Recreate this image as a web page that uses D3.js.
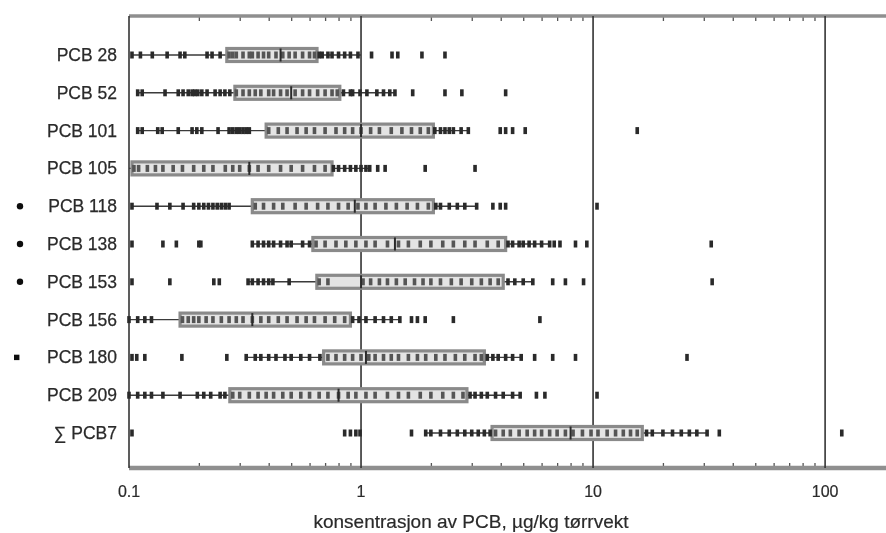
<!DOCTYPE html>
<html>
<head>
<meta charset="utf-8">
<script src="https://cdn.jsdelivr.net/npm/d3@7"></script>
<style>
  html, body { margin: 0; padding: 0; background: #fff; }
  svg { display: block; }
</style>
</head>
<body>
<svg id="chart" width="886" height="533"></svg>
<script>
// ---------------- data ----------------
const categories = ["PCB 28","PCB 52","PCB 101","PCB 105","PCB 118","PCB 138","PCB 153","PCB 156","PCB 180","PCB 209","\u2211 PCB7"];
const markers    = ["","","","","circle","circle","circle","","square","",""];

const q1        = [0.264, 0.286, 0.39, 0.103, 0.34, 0.62, 0.645, 0.166, 0.69, 0.272, 3.67];
const median    = [0.45,  0.50,  1.0,  0.33,  0.94, 1.4,  1.0,   0.34,  1.05, 0.8,   8.0];
const q3        = [0.646, 0.81,  2.05, 0.75,  2.05, 4.2,  4.1,   0.90,  3.4,  2.86,  16.3];
const whiskerLo = [0.103, 0.109, 0.109, 0.1,  0.103, 0.34, 0.326, 0.1,  0.32, 0.1,   1.9];
const whiskerHi = [1.0,   1.4,   2.9,  1.1,   3.15, 6.5,  5.5,   1.47,  4.9,  4.85,  31];

const ptsPCB28  = [0.103,0.112,0.126,0.146,0.166,0.174,0.217,0.228,0.247,0.27,0.28,0.29,0.31,0.33,0.34,0.36,0.38,0.40,0.43,0.46,0.49,0.52,0.56,0.60,0.63,0.66,0.68,0.72,0.75,0.80,0.85,0.90,0.97,1.11,1.36,1.44,1.83,2.30];
const ptsPCB52  = [0.109,0.114,0.143,0.163,0.171,0.180,0.187,0.192,0.198,0.206,0.217,0.235,0.247,0.259,0.272,0.29,0.31,0.33,0.35,0.37,0.40,0.42,0.45,0.48,0.52,0.56,0.60,0.65,0.70,0.75,0.79,0.84,0.90,0.92,0.99,1.06,1.17,1.25,1.33,1.40,1.67,2.30,2.72,4.2];
const ptsPCB101 = [0.109,0.114,0.133,0.139,0.163,0.187,0.196,0.206,0.242,0.27,0.28,0.29,0.30,0.31,0.32,0.33,0.40,0.44,0.48,0.53,0.58,0.63,0.70,0.78,0.85,0.92,1.0,1.1,1.2,1.35,1.5,1.65,1.8,1.95,2.08,2.2,2.3,2.4,2.5,2.7,2.9,3.98,4.2,4.5,5.1,15.5];
const ptsPCB105 = [0.105,0.11,0.12,0.13,0.14,0.155,0.17,0.19,0.21,0.23,0.26,0.28,0.30,0.33,0.36,0.40,0.45,0.50,0.56,0.63,0.70,0.76,0.8,0.85,0.9,0.95,1.0,1.05,1.09,1.18,1.27,1.89,3.1];
const ptsPCB118 = [0.103,0.132,0.150,0.171,0.19,0.2,0.21,0.22,0.23,0.24,0.25,0.26,0.27,0.35,0.38,0.42,0.46,0.52,0.58,0.65,0.72,0.80,0.88,0.97,1.05,1.15,1.28,1.42,1.58,1.75,1.95,2.1,2.2,2.4,2.6,2.8,3.15,3.7,3.98,4.2,10.4];
const ptsPCB138 = [0.103,0.140,0.160,0.200,0.204,0.34,0.36,0.38,0.40,0.42,0.45,0.48,0.50,0.56,0.60,0.64,0.7,0.78,0.86,0.95,1.05,1.15,1.3,1.45,1.6,1.8,2.0,2.25,2.5,2.8,3.1,3.5,3.9,4.3,4.5,4.8,5.0,5.3,5.6,6.0,6.5,6.8,7.2,8.4,9.4,32.3];
const ptsPCB153 = [0.103,0.150,0.232,0.245,0.326,0.34,0.36,0.38,0.40,0.417,0.49,0.66,0.72,1.02,1.1,1.2,1.3,1.42,1.55,1.7,1.85,2.0,2.2,2.45,2.7,3.0,3.3,3.6,3.9,4.3,4.6,5.0,5.5,6.7,7.6,9.1,32.6];
const ptsPCB156 = [0.1,0.109,0.117,0.125,0.17,0.18,0.19,0.2,0.215,0.23,0.25,0.27,0.29,0.31,0.34,0.37,0.40,0.44,0.48,0.53,0.58,0.63,0.70,0.77,0.85,0.92,0.98,1.05,1.15,1.25,1.35,1.47,1.65,1.75,1.89,2.5,5.9];
const ptsPCB180 = [0.103,0.108,0.117,0.169,0.264,0.32,0.35,0.37,0.40,0.43,0.47,0.50,0.55,0.60,0.665,0.72,0.78,0.85,0.92,1.0,1.08,1.15,1.25,1.35,1.45,1.6,1.75,1.9,2.1,2.3,2.55,2.8,3.1,3.3,3.5,3.7,3.9,4.2,4.5,4.9,5.6,6.7,8.4,25.4];
const ptsPCB209 = [0.1,0.109,0.117,0.125,0.14,0.166,0.197,0.21,0.225,0.247,0.259,0.28,0.30,0.33,0.36,0.39,0.42,0.46,0.5,0.55,0.6,0.66,0.72,0.8,0.88,0.95,1.05,1.15,1.3,1.45,1.6,1.8,2.0,2.25,2.5,2.75,2.95,3.1,3.3,3.5,3.8,4.1,4.5,4.85,5.7,6.2,10.4];
const ptsPCB7   = [0.103,0.85,0.9,0.95,0.99,1.65,1.9,2.0,2.2,2.4,2.6,2.8,3.0,3.2,3.4,3.6,3.8,4.1,4.4,4.8,5.2,5.6,6.0,6.5,7.0,7.6,8.2,9.0,9.8,10.5,11.5,12.5,13.5,14.5,15.5,17,18,20,22,24,26,28,31,35,118];
const points = [ptsPCB28, ptsPCB52, ptsPCB101, ptsPCB105, ptsPCB118, ptsPCB138, ptsPCB153, ptsPCB156, ptsPCB180, ptsPCB209, ptsPCB7];

const xTickValues = [0.1, 1, 10, 100];
const xTickLabels = ["0.1", "1", "10", "100"];
const xTitle = "konsentrasjon av PCB, \u00b5g/kg t\u00f8rrvekt";

// ---------------- layout ----------------
const plotLeft = 129, plotRight = 886, plotTop = 16, plotBottom = 468;
const svg = d3.select("#chart");

const defs = svg.append("defs");
defs.append("filter").attr("id", "blur")
  .attr("x", "-5%").attr("y", "-5%").attr("width", "110%").attr("height", "110%")
  .append("feGaussianBlur").attr("stdDeviation", 0.6);

const x = d3.scaleLog().domain([0.1, 183]).range([plotLeft, plotRight]);
const y = d3.scalePoint().domain(categories).range([55, 433]);

const g = svg.append("g").attr("filter", "url(#blur)");

// minor ticks top & bottom
const minorTicks = [];
[0.1, 1, 10, 100].forEach(d => { for (let k = 2; k <= 9; k++) if (d * k < 183) minorTicks.push(d * k); });

const axTop = g.append("g").attr("transform", `translate(0,${plotTop})`)
  .call(d3.axisTop(x).tickValues(minorTicks).tickSize(-5).tickFormat(""));
const axBot = g.append("g").attr("transform", `translate(0,${plotBottom})`)
  .call(d3.axisBottom(x).tickValues(minorTicks).tickSize(-5).tickFormat(""));
[axTop, axBot].forEach(a => {
  a.select(".domain").remove();
  a.selectAll(".tick line").attr("stroke", "#555").attr("stroke-width", 1.3);
});

// frame lines
g.append("line").attr("x1", plotLeft).attr("x2", plotRight).attr("y1", plotTop).attr("y2", plotTop)
  .attr("stroke", "#8f8f8f").attr("stroke-width", 3.5);
g.append("line").attr("x1", plotLeft).attr("x2", plotRight).attr("y1", plotBottom).attr("y2", plotBottom)
  .attr("stroke", "#8f8f8f").attr("stroke-width", 4.5);

// decade grid lines (incl. left edge)
g.append("g").selectAll("line").data(xTickValues).join("line")
  .attr("x1", d => x(d)).attr("x2", d => x(d))
  .attr("y1", plotTop).attr("y2", plotBottom)
  .attr("stroke", "#333").attr("stroke-width", 1.6);

// rows
const boxH = 13;
const rows = g.append("g").selectAll("g").data(categories).join("g")
  .attr("transform", d => `translate(0,${y(d)})`);

// whiskers
rows.append("line")
  .attr("x1", (d, i) => x(whiskerLo[i])).attr("x2", (d, i) => x(whiskerHi[i]))
  .attr("y1", 0).attr("y2", 0)
  .attr("stroke", "#3a3a3a").attr("stroke-width", 1.4);

// boxes
rows.append("rect")
  .attr("x", (d, i) => x(q1[i])).attr("width", (d, i) => x(q3[i]) - x(q1[i]))
  .attr("y", -boxH / 2).attr("height", boxH)
  .attr("fill", "#e4e4e4").attr("stroke", "#8a8a8a").attr("stroke-width", 3.2);

// points
rows.each(function (d, i) {
  d3.select(this).append("g").selectAll("rect").data(points[i]).join("rect")
    .attr("x", v => x(v) - 1.8).attr("width", 3.6)
    .attr("y", -3.5).attr("height", 7)
    .attr("fill", v => (v >= q1[i] && v <= q3[i]) ? "#555" : "#2a2a2a");
});

// median
rows.append("line")
  .attr("x1", (d, i) => x(median[i])).attr("x2", (d, i) => x(median[i]))
  .attr("y1", -boxH / 2).attr("y2", boxH / 2)
  .attr("stroke", "#2a2a2a").attr("stroke-width", 2);

// category labels
const labels = svg.append("g").attr("filter", "url(#blur)")
  .attr("font-family", "'Liberation Sans', Arial, sans-serif").attr("fill", "#2a2a2a");
labels.selectAll(".cl").data(categories).join("text").attr("class", "cl")
  .attr("x", 117).attr("y", d => y(d) + 6)
  .attr("text-anchor", "end").attr("font-size", 17.5)
  .attr("stroke", "#2a2a2a").attr("stroke-width", 0.25)
  .text(d => d);

// markers
categories.forEach((c, i) => {
  if (markers[i] === "circle") {
    labels.append("circle").attr("cx", 20).attr("cy", y(c)).attr("r", 3.2).attr("fill", "#111");
  } else if (markers[i] === "square") {
    labels.append("rect").attr("x", 14).attr("y", y(c) - 2.7).attr("width", 5.4).attr("height", 5.4).attr("fill", "#111");
  }
});

// tick labels
labels.selectAll(".tl").data(xTickValues).join("text").attr("class", "tl")
  .attr("x", d => x(d)).attr("y", 497)
  .attr("text-anchor", "middle").attr("font-size", 16)
  .attr("stroke", "#2a2a2a").attr("stroke-width", 0.2)
  .text((d, i) => xTickLabels[i]);

// axis title
labels.append("text")
  .attr("x", 471).attr("y", 528)
  .attr("text-anchor", "middle").attr("font-size", 19)
  .attr("stroke", "#2a2a2a").attr("stroke-width", 0.2)
  .text(xTitle);
</script>
</body>
</html>
